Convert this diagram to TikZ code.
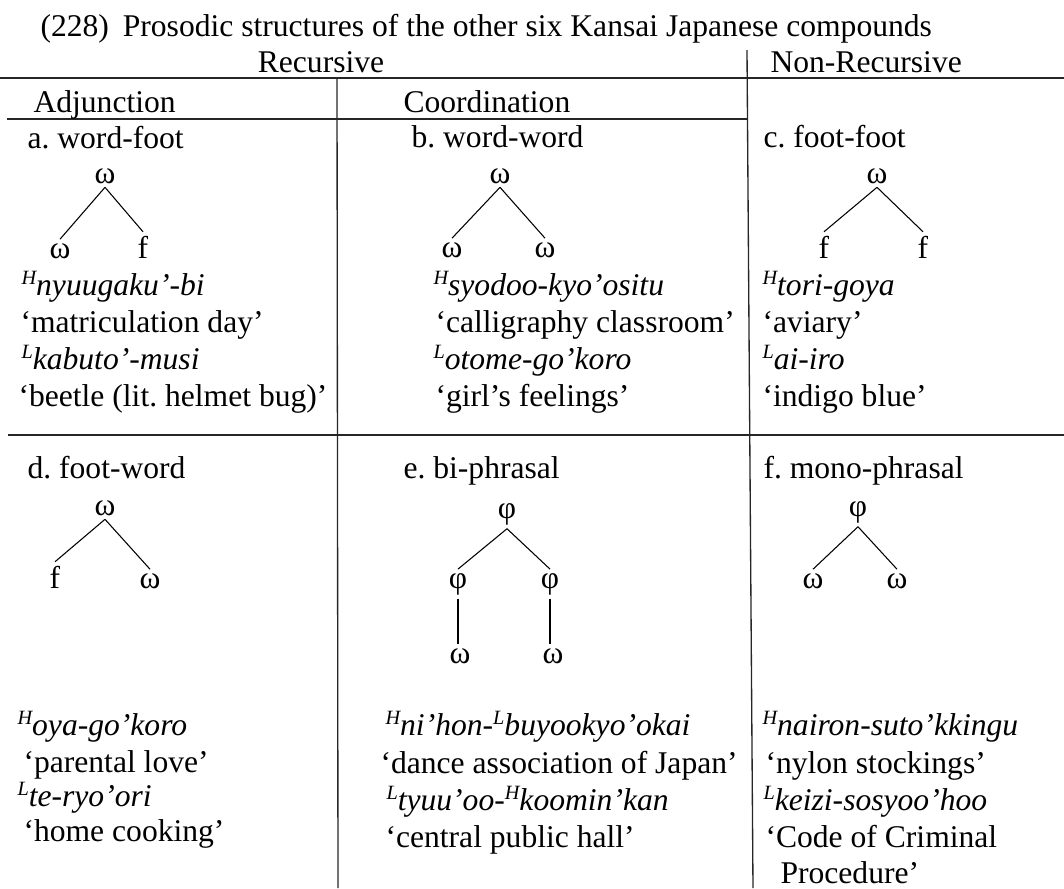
\documentclass[tikz,border=0pt]{standalone}
\usepackage{fontspec}
\setmainfont{Liberation Serif}
% superscript tone mark (H / L) in front of a compound
\newcommand\tonemark[1]{\raisebox{4pt}{\fontsize{7.6}{9}\selectfont\itshape #1}}
\begin{document}
\begin{tikzpicture}[x=0.375pt,y=-0.375pt,
  txt/.style={anchor=base west,inner sep=0pt,font=\fontsize{11.85}{14}\selectfont},
  ctr/.style={anchor=base,inner sep=0pt,font=\fontsize{11.85}{14}\selectfont},
  sym/.style={anchor=base,inner sep=1.3pt,font=\fontsize{11.85}{14}\selectfont},
  rule/.style={line width=0.5pt,draw=black!85},
  branch/.style={line width=0.4pt,draw=black}]
\useasboundingbox (0,0) rectangle (1064,888);

% ---------- table rules ----------
\coordinate (h1l) at (0,78);   \coordinate (h1r) at (1064,78);
\coordinate (h2l) at (7,119);  \coordinate (h2r) at (747,119);
\coordinate (h3l) at (8,435);  \coordinate (h3r) at (1064,435);
\coordinate (v1t) at (337,78); \coordinate (v1b) at (338,888);
\coordinate (v2t) at (747,50); \coordinate (v2b) at (753,888);
\draw[rule] (h1l) -- (h1r);
\draw[rule] (h2l) -- (h2r);
\draw[rule] (h3l) -- (h3r);
\draw[rule] (v1t) -- (v1b);
\draw[rule] (v2t) -- (v2b);

% ---------- headings ----------
\node[txt] (title) at (40,36) {(228)\hspace{5.2pt}Prosodic structures of the other six Kansai Japanese compounds};
\node[ctr] (rec) at (321,72) {Recursive};
\node[txt] (nonrec) at (770,72) {Non-Recursive};
\node[txt] (adj) at (33,112) {Adjunction};
\node[txt] (coord) at (403,112) {Coordination};

\node[txt] (la) at (27,148) {a.\ word-foot};
\node[txt] (lb) at (411,147) {b.\ word-word};
\node[txt] (lc) at (763,147) {c.\ foot-foot};
\node[txt] (ld) at (27,478) {d.\ foot-word};
\node[txt] (le) at (403,478) {e.\ bi-phrasal};
\node[txt] (lf) at (763,478) {f.\ mono-phrasal};

% ---------- trees ----------
% a. word-foot
\node[sym] (ra) at (105,183) {ω};
\node[sym] (al) at (60,258) {ω};
\node[sym] (ar) at (143,258) {f};
\draw[branch] (ra.south) -- (al.north);
\draw[branch] (ra.south) -- (ar.north);
% b. word-word
\node[sym] (rb) at (500,183) {ω};
\node[sym] (bl) at (452,257) {ω};
\node[sym] (br) at (545,257) {ω};
\draw[branch] (rb.south) -- (bl.north);
\draw[branch] (rb.south) -- (br.north);
% c. foot-foot
\node[sym] (rc) at (877,183) {ω};
\node[sym] (cl) at (824,258) {f};
\node[sym] (cr) at (923,258) {f};
\draw[branch] (rc.south) -- (cl.north);
\draw[branch] (rc.south) -- (cr.north);
% d. foot-word
\node[sym] (rd) at (105,515) {ω};
\node[sym] (dl) at (55,588) {f};
\node[sym] (dr) at (150,588) {ω};
\draw[branch] (rd.south) -- (dl.north);
\draw[branch] (rd.south) -- (dr.north);
% e. bi-phrasal
\node[sym] (re) at (507,518) {φ};
\node[sym] (el) at (458,588) {φ};
\node[sym] (er) at (550,588) {φ};
\node[sym] (ell) at (460,663) {ω};
\node[sym] (err) at (553,663) {ω};
\draw[branch] (re.south) -- (el.north);
\draw[branch] (re.south) -- (er.north);
\draw[branch] (el.south) -- (el.south |- ell.north);
\draw[branch] (er.south) -- (er.south |- err.north);
% f. mono-phrasal
\node[sym] (rf) at (858,516) {φ};
\node[sym] (fl) at (813,588) {ω};
\node[sym] (fr) at (897,588) {ω};
\draw[branch] (rf.south) -- (fl.north);
\draw[branch] (rf.south) -- (fr.north);

% ---------- examples, row 1 ----------
\node[txt] (a1) at (21,295) {\tonemark{H}\textit{nyuugaku’-bi}};
\node[txt] (a2) at (20,332) {‘matriculation day’};
\node[txt] (a3) at (21,369) {\tonemark{L}\textit{kabuto’-musi}};
\node[txt] (a4) at (18,406) {‘beetle (lit.\ helmet bug)’};

\node[txt] (b1) at (433,295) {\tonemark{H}\textit{syodoo-kyo’ositu}};
\node[txt] (b2) at (435,332) {‘calligraphy classroom’};
\node[txt] (b3) at (433,369) {\tonemark{L}\textit{otome-go’koro}};
\node[txt] (b4) at (435,406) {‘girl’s feelings’};

\node[txt] (c1) at (762,295) {\tonemark{H}\textit{tori-goya}};
\node[txt] (c2) at (762,332) {‘aviary’};
\node[txt] (c3) at (762,369) {\tonemark{L}\textit{ai-iro}};
\node[txt] (c4) at (762,406) {‘indigo blue’};

% ---------- examples, row 2 ----------
\node[txt] (d1) at (17,735) {\tonemark{H}\textit{oya-go’koro}};
\node[txt] (d2) at (23,772) {‘parental love’};
\node[txt] (d3) at (17,806) {\tonemark{L}\textit{te-ryo’ori}};
\node[txt] (d4) at (23,841) {‘home cooking’};

\node[txt] (e1) at (385,735) {\tonemark{H}\textit{ni’hon-}\tonemark{L}\textit{buyookyo’okai}};
\node[txt] (e2) at (380,773) {‘dance association of Japan’};
\node[txt] (e3) at (386,810) {\tonemark{L}\textit{tyuu’oo-}\tonemark{H}\textit{koomin’kan}};
\node[txt] (e4) at (385,847) {‘central public hall’};

\node[txt] (f1) at (762,735) {\tonemark{H}\textit{nairon-suto’kkingu}};
\node[txt] (f2) at (765,773) {‘nylon stockings’};
\node[txt] (f3) at (763,810) {\tonemark{L}\textit{keizi-sosyoo’hoo}};
\node[txt] (f4) at (765,847) {‘Code of Criminal};
\node[txt] (f5) at (780,883) {Procedure’};
\end{tikzpicture}
\end{document}
